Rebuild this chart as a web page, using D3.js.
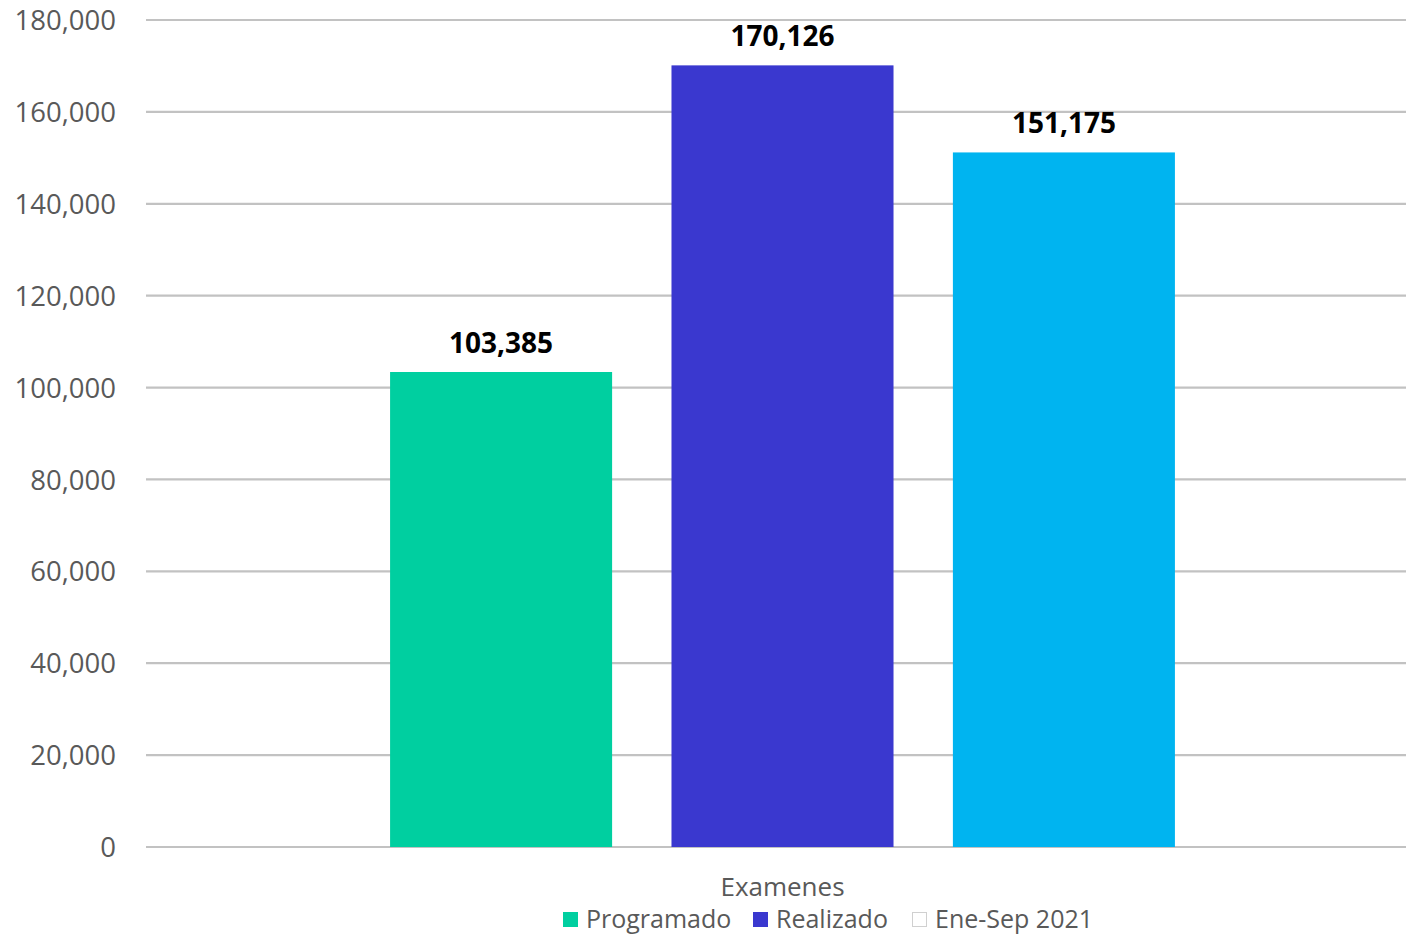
<!DOCTYPE html>
<html><head><meta charset="utf-8">
<script src="https://cdn.jsdelivr.net/npm/d3@7"></script>
<style>body{margin:0;background:#fff}svg{display:block}</style>
</head><body>
<svg id="c" width="1406" height="935"></svg>
<script>
const categories = ["Examenes"];
const seriesNames = ["Programado", "Realizado", "Ene-Sep 2021"];
const seriesValues = [103385, 170126, 151175];
const barColors = ["#00CFA0", "#3A38CF", "#00B4F0"];
const legendColors = ["#00CFA0", "#3A38CF", "#FFFFFF"];
const yTicks = [0, 20000, 40000, 60000, 80000, 100000, 120000, 140000, 160000, 180000];

const svg = d3.select("#c");
const m = {left: 146, right: 1406, plotRight: 1419, top: 20, bottom: 847};
const font = "'Open Sans', sans-serif";
const fmt = d3.format(",");

const y = d3.scaleLinear().domain([0, 180000]).range([m.bottom, m.top]);
const x0 = d3.scaleBand().domain(categories).range([m.left, m.plotRight]).paddingInner(0).paddingOuter(0.311);
const x1 = d3.scaleBand().domain(seriesNames).range([0, x0.bandwidth()]).paddingInner(0.211);

// gridlines
svg.append("g").selectAll("line").data(yTicks).join("line")
  .attr("x1", m.left).attr("x2", m.right)
  .attr("y1", d => y(d)).attr("y2", d => y(d))
  .attr("stroke", "#c2c2c2").attr("stroke-width", 2.2);

// y axis labels
const yAxis = d3.axisLeft(y).tickValues(yTicks).tickFormat(fmt).tickSize(0).tickPadding(0);
const ga = svg.append("g").attr("transform", `translate(116,0)`).call(yAxis);
ga.select(".domain").remove();
ga.selectAll("text").attr("font-family", font).attr("font-size", 27.5).attr("fill", "#595959").attr("dy", "0.35em");

// bars
const g = svg.append("g");
categories.forEach(cat => {
  seriesNames.forEach((s, i) => {
    const bx = x0(cat) + x1(s);
    g.append("rect")
      .attr("x", bx).attr("width", x1.bandwidth())
      .attr("y", y(seriesValues[i])).attr("height", y(0) - y(seriesValues[i]))
      .attr("fill", barColors[i]);
    g.append("text")
      .attr("x", bx + x1.bandwidth() / 2).attr("y", y(seriesValues[i]) - 19)
      .attr("text-anchor", "middle").attr("font-family", font).attr("font-weight", "bold")
      .attr("font-size", 28).attr("fill", "#000").text(fmt(seriesValues[i]));
  });
  svg.append("text").attr("x", x0(cat) + x0.bandwidth() / 2).attr("y", 896)
    .attr("text-anchor", "middle").attr("font-family", font).attr("font-size", 26)
    .attr("fill", "#595959").text(cat);
});

// legend
const legendX = [563, 753, 912];
const lg = svg.append("g");
seriesNames.forEach((s, i) => {
  lg.append("rect").attr("x", legendX[i] + 0.5).attr("y", 912.5).attr("width", 14).attr("height", 14)
    .attr("fill", legendColors[i]).attr("stroke", i === 2 ? "#d0d0d0" : legendColors[i]).attr("stroke-width", 1);
  lg.append("text").attr("x", legendX[i] + 23).attr("y", 928)
    .attr("font-family", font).attr("font-size", 25).attr("fill", "#595959").text(s);
});
</script>
</body></html>
